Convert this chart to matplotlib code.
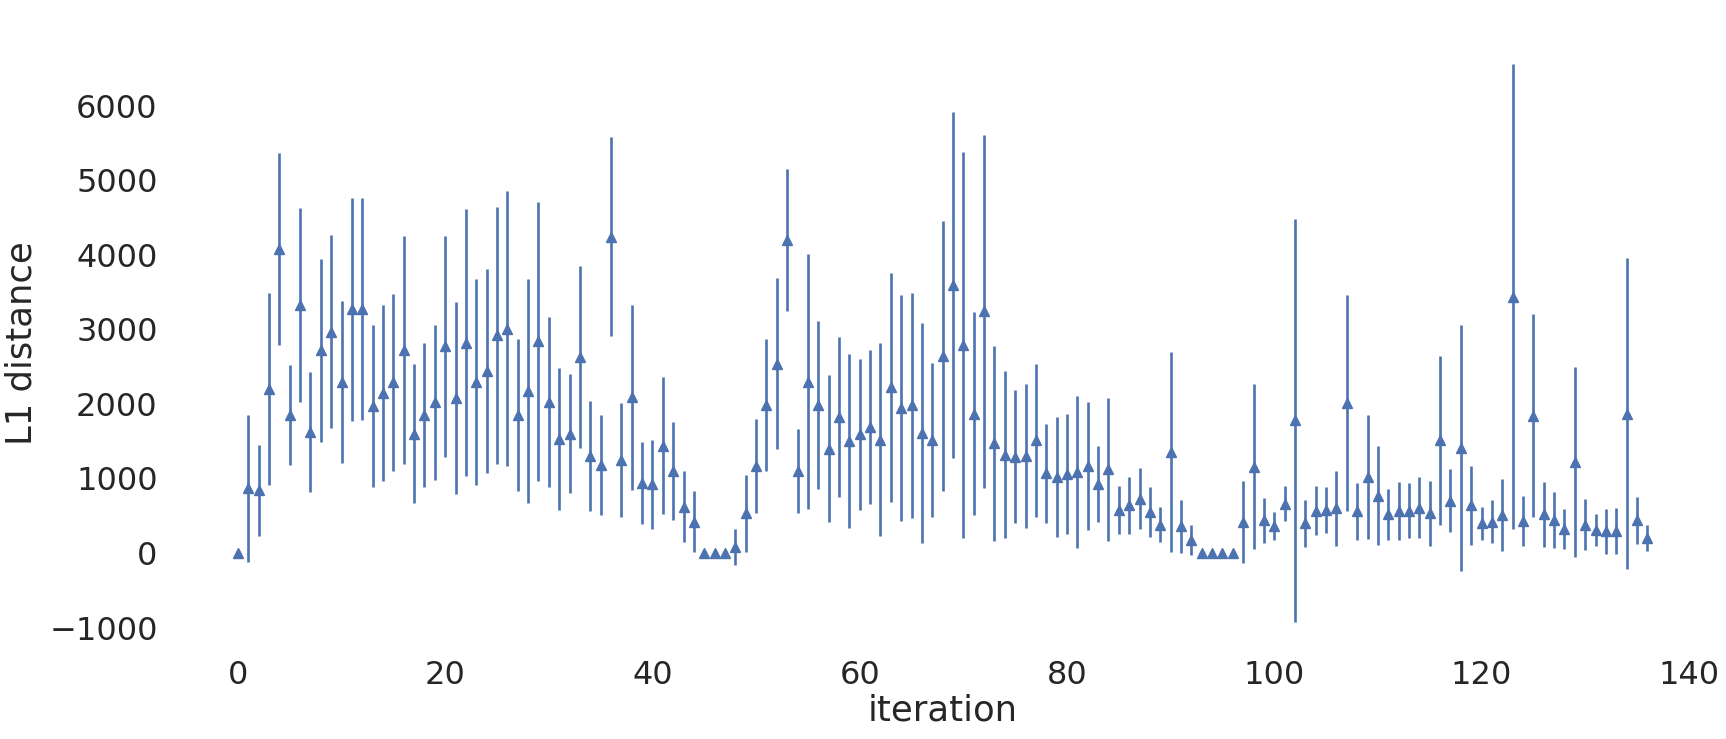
import numpy as np
from matplotlib import pyplot as plt

# mean L1 distance per iteration and its spread
l1_mean = [
    0, 870, 840, 2200, 4080, 1850, 3330, 1620, 2720, 2970,
    2290, 3270, 3270, 1970, 2150, 2290, 2720, 1600, 1850, 2020,
    2770, 2080, 2820, 2290, 2440, 2920, 3010, 1850, 2170, 2840,
    2020, 1530, 1600, 2630, 1300, 1180, 4240, 1250, 2090, 940,
    920, 1440, 1100, 620, 420, 0, 0, 0, 80, 530,
    1170, 1980, 2540, 4200, 1100, 2300, 1980, 1400, 1820, 1500,
    1590, 1690, 1520, 2220, 1950, 1980, 1610, 1520, 2640, 3600,
    2790, 1870, 3240, 1470, 1320, 1290, 1300, 1510, 1070, 1020,
    1060, 1090, 1170, 930, 1120, 580, 640, 730, 550, 380,
    1350, 360, 170, 0, 0, 0, 0, 410, 1160, 440,
    360, 660, 1780, 400, 570, 580, 600, 2010, 560, 1020,
    770, 520, 560, 570, 610, 530, 1510, 700, 1410, 640,
    400, 420, 510, 3440, 430, 1840, 520, 440, 320, 1220,
    380, 310, 290, 290, 1870, 440, 200,
]
l1_std = [
    0, 985, 615, 1285, 1290, 670, 1300, 805, 1225, 1290,
    1085, 1495, 1490, 1085, 1180, 1185, 1525, 930, 970, 1040,
    1485, 1285, 1790, 1380, 1370, 1725, 1840, 1015, 1505, 1870,
    1140, 950, 800, 1220, 735, 675, 1335, 765, 1240, 545,
    595, 920, 660, 475, 410, 0, 0, 0, 245, 510,
    630, 885, 1150, 950, 565, 1710, 1125, 990, 1075, 1170,
    1010, 1030, 1290, 1535, 1515, 1510, 1475, 1035, 1810, 2320,
    2595, 1365, 2370, 1310, 1120, 890, 960, 1030, 665, 810,
    800, 1020, 855, 510, 965, 325, 385, 410, 340, 235,
    1340, 355, 200, 0, 0, 0, 0, 550, 1110, 300,
    190, 235, 2705, 315, 335, 305, 505, 1445, 380, 830,
    665, 340, 390, 370, 410, 440, 1135, 420, 1650, 530,
    220, 285, 485, 3120, 340, 1360, 435, 375, 270, 1280,
    340, 215, 300, 310, 2090, 315, 170,
]
iterations = np.arange(len(l1_mean))

fig = plt.figure(figsize=(17.26, 7.39), dpi=100)
ax = fig.add_axes([0.0970, 0.1206, 0.8983, 0.8307])

ax.errorbar(iterations, l1_mean, yerr=l1_std, fmt='^', color='#4C72B0',
            markersize=7.5, elinewidth=1.9, capsize=0)

for side in ax.spines.values():
    side.set_visible(False)

ax.set_xticks([0, 20, 40, 60, 80, 100, 120, 140])
ax.set_yticks([-1000, 0, 1000, 2000, 3000, 4000, 5000, 6000])
ax.tick_params(labelsize=23, colors='#262626', length=0, pad=7)
ax.set_xlabel('iteration', fontsize=25.5, color='#262626', labelpad=2)
ax.set_ylabel('L1 distance', fontsize=25.5, color='#262626', labelpad=8)

fig.savefig('out.png', dpi=100)
